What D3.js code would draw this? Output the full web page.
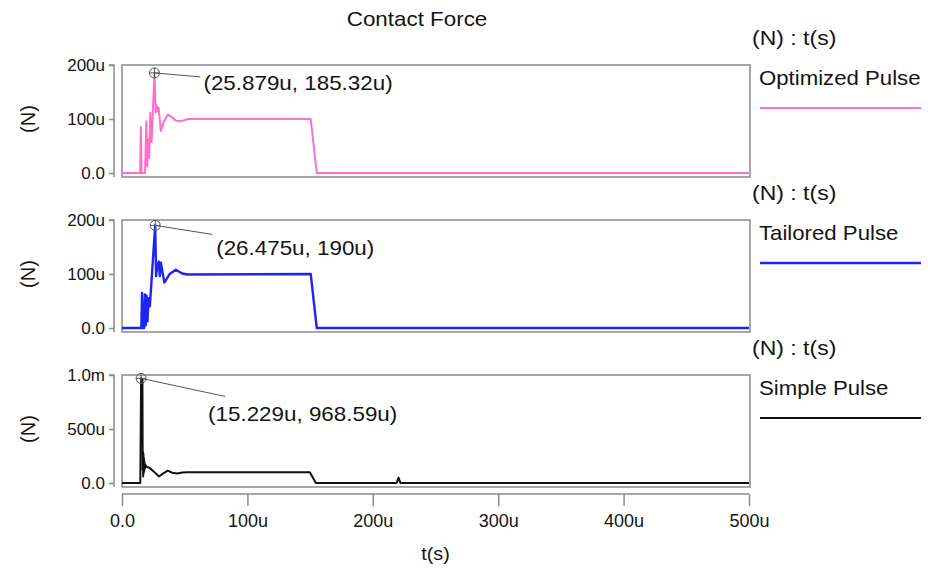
<!DOCTYPE html>
<html>
<head>
<meta charset="utf-8">
<script src="https://cdn.jsdelivr.net/npm/d3@7"></script>
<style>
  html, body { margin: 0; padding: 0; background: #fff; }
  svg text { font-family: "Liberation Sans", Arial, Helvetica, sans-serif; fill: #141414; }
</style>
</head>
<body>
<svg id="chart" width="933" height="570"></svg>
<script>
// Time in microseconds, force in micronewtons.
const optimizedPulse = [
  [0, 0], [14.5, 0], [15.0, 85], [15.6, 0], [18.4, 0], [19.4, 96], [20.2, 12],
  [21.0, 62], [21.7, 28], [22.6, 112], [23.6, 58], [25.879, 185.32], [26.8, 112],
  [27.6, 126], [28.4, 114], [29.2, 121], [31.0, 78], [33.5, 96], [36.5, 108],
  [39.5, 104], [43.0, 97], [47.0, 96], [53.0, 100], [150.5, 100], [155.3, 0], [500, 0]
];
const tailoredPulse = [
  [0, 0], [15.4, 0], [16.0, 65], [16.6, 0], [17.6, 0], [18.3, 62], [18.9, 5],
  [19.6, 60], [20.3, 12], [21.2, 55], [22.2, 40], [26.475, 190], [27.2, 96],
  [28.0, 112], [29.3, 123], [30.2, 96], [31.0, 121], [33.8, 84], [38.0, 100],
  [43.0, 108], [48.0, 101], [52.5, 99], [150.5, 100], [155.3, 0], [500, 0]
];
const simplePulse = [
  [0, 0], [14.6, 0], [15.229, 968.59], [16.3, 962], [16.5, 120], [16.7, 290],
  [16.9, 60], [17.1, 270], [17.3, 90], [17.5, 230], [17.7, 110], [17.9, 200],
  [18.2, 130], [18.6, 170], [19.5, 150], [22.0, 140], [25.0, 110], [29.5, 60],
  [33.0, 90], [36.5, 114], [40.0, 95], [44.0, 88], [48.0, 98], [52.0, 100],
  [149.8, 100], [154.6, 0], [219.0, 0], [220.5, 50], [222.0, 0], [500, 0]
];

const seriesNames = ["Optimized Pulse", "Tailored Pulse", "Simple Pulse"];
const seriesColors = ["#ff6ec7", "#1f24f2", "#111111"];
const seriesData = [optimizedPulse, tailoredPulse, simplePulse];

// Marked peak of each trace: [time µs, force µN]
const peakMarks = [[25.879, 185.32], [26.475, 190], [15.229, 968.59]];

// Axes
const xTicks = [0, 100, 200, 300, 400, 500];
const xTickLabels = ["0.0", "100u", "200u", "300u", "400u", "500u"];
const yMax = [200, 200, 1000];
const yTicks = [[0, 100, 200], [0, 100, 200], [0, 500, 1000]];
const yTickLabels = [["0.0", "100u", "200u"], ["0.0", "100u", "200u"], ["0.0", "500u", "1.0m"]];

const svg = d3.select("#chart");
const frameColor = "#8a8a8a";
const left = 122, right = 749;
const panelTop0 = 65, panelStep = 155, plotH = 108, frameH = 112;

const x = d3.scaleLinear().domain([0, 500]).range([left, right]);

// Text drawn with a slightly wide set width
function wideText(parent, tx, ty, str, size, stretch, anchor) {
  return parent.append("text")
    .attr("transform", `translate(${tx},${ty}) scale(${stretch},1)`)
    .attr("text-anchor", anchor || "start")
    .attr("font-size", size).text(str);
}

// Title
wideText(svg, 417, 26, "Contact Force", 20, 1.12, "middle");

// Label offsets (leader end, text anchor) relative to the marked peak
const leaderOff = [[46, 4], [57, 9], [84, 18]];
const labelOff = [[49, 17], [61, 30], [67, 43]];

seriesData.forEach((data, i) => {
  const top = panelTop0 + i * panelStep;
  const y = d3.scaleLinear().domain([0, yMax[i]]).range([top + plotH, top]);
  const g = svg.append("g");

  // Plot frame
  g.append("rect").attr("x", left).attr("y", top).attr("width", right + 1 - left)
    .attr("height", frameH).attr("fill", "none").attr("stroke", frameColor).attr("stroke-width", 1.5);

  // Y axis, detached from the frame
  const yAxis = d3.axisLeft(y).tickValues(yTicks[i])
    .tickFormat((d, k) => yTickLabels[i][k]).tickSize(5).tickPadding(4);
  const ya = g.append("g").attr("transform", `translate(${left - 8},0)`).call(yAxis);
  ya.select(".domain").attr("d", `M-5,${top}H0V${top + frameH}`).attr("stroke", frameColor).attr("stroke-width", 1.5);
  ya.selectAll(".tick line").attr("stroke", frameColor).attr("stroke-width", 1.5);
  ya.selectAll(".tick text").attr("font-size", 17).attr("fill", "#141414")
    .style("font-family", "'Liberation Sans', Arial, sans-serif");

  // Y axis title
  g.append("text").attr("transform", `translate(35,${top + plotH / 2}) rotate(-90)`)
    .attr("text-anchor", "middle").attr("font-size", 20).text("(N)");

  // Trace
  const clipId = `clip${i}`;
  svg.append("clipPath").attr("id", clipId).append("rect")
    .attr("x", left).attr("y", top - 2).attr("width", right - left + 1).attr("height", frameH + 2);
  g.append("path").datum(data)
    .attr("clip-path", `url(#${clipId})`)
    .attr("fill", "none").attr("stroke", seriesColors[i])
    .attr("stroke-width", i === 1 ? 2.4 : 2).attr("stroke-linejoin", "round")
    .attr("d", d3.line().x(d => x(d[0])).y(d => y(d[1])));

  // Peak marker with leader and readout
  const [pt, pv] = peakMarks[i];
  const cx = x(pt), cy = y(pv);
  const mk = g.append("g").attr("stroke", "#555").attr("stroke-width", 1).attr("fill", "none");
  mk.append("circle").attr("cx", cx).attr("cy", cy).attr("r", 5);
  mk.append("line").attr("x1", cx - 5).attr("x2", cx + 5).attr("y1", cy).attr("y2", cy);
  mk.append("line").attr("x1", cx).attr("x2", cx).attr("y1", cy - 5).attr("y2", cy + 5);
  mk.append("line").attr("x1", cx).attr("y1", cy)
    .attr("x2", cx + leaderOff[i][0]).attr("y2", cy + leaderOff[i][1]);
  wideText(g, cx + labelOff[i][0], cy + labelOff[i][1], `(${pt}u, ${pv}u)`, 20, 1.12);

  // Legend
  wideText(g, 752, top - 20, "(N) : t(s)", 20, 1.15);
  wideText(g, 759, top + 20, seriesNames[i], 20, 1.11);
  g.append("line").attr("x1", 760).attr("x2", 921).attr("y1", top + 43).attr("y2", top + 43)
    .attr("stroke", seriesColors[i]).attr("stroke-width", i === 1 ? 2.4 : 2);
});

// Shared time axis
const axisY = 494;
const xAxis = d3.axisBottom(x).tickValues(xTicks)
  .tickFormat((d, k) => xTickLabels[k]).tickSize(12).tickPadding(8);
const xa = svg.append("g").attr("transform", `translate(0,${axisY})`).call(xAxis);
xa.select(".domain").attr("d", `M${left},0H${right}`).attr("stroke", frameColor).attr("stroke-width", 1.5);
xa.selectAll(".tick line").attr("stroke", frameColor).attr("stroke-width", 1.5);
xa.selectAll(".tick text").attr("font-size", 18).attr("fill", "#141414")
  .style("font-family", "'Liberation Sans', Arial, sans-serif");

wideText(svg, (left + right) / 2, 560, "t(s)", 18, 1.1, "middle");
</script>
</body>
</html>
